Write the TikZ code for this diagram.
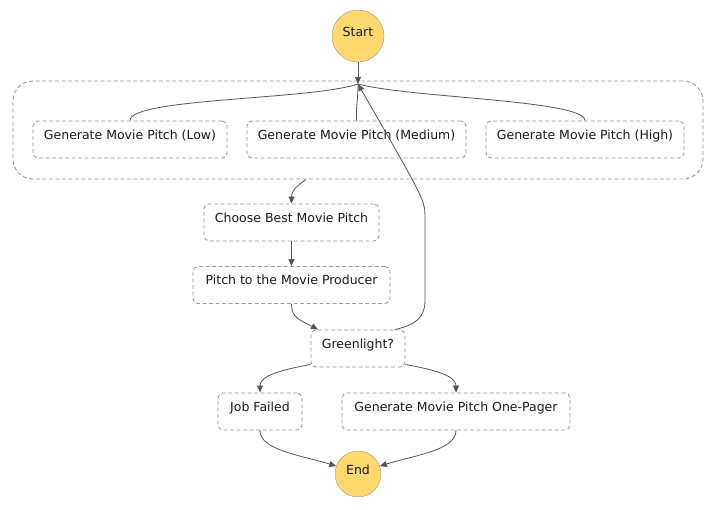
\documentclass[tikz,border=0pt]{standalone}
\usepackage{fontspec}
\setmainfont{DejaVu Sans}
\usetikzlibrary{arrows.meta,positioning,calc}
\definecolor{sun}{RGB}{255,216,110}
\definecolor{rim}{RGB}{150,150,150}
\definecolor{dash}{RGB}{155,155,155}
\definecolor{wire}{RGB}{85,85,85}
\definecolor{ink}{RGB}{22,25,31}
\tikzset{
  >={Triangle[length=7pt,width=6pt]},
  task/.style={draw=dash,line width=0.9pt,dash pattern=on 4pt off 2.5pt,fill=white,rounded corners=5pt,
    minimum height=37pt,minimum width=#1,inner xsep=0pt,text=ink,text height=9pt,text depth=10pt,
    font=\fontsize{12.5}{15}\selectfont},
  task/.default=100pt,
  group/.style={draw=dash,line width=0.9pt,dash pattern=on 4pt off 2.5pt,rounded corners=20pt,
    minimum width=690pt,minimum height=98pt},
  terminal/.style={circle,draw=rim,fill=sun,minimum size=#1,inner sep=0pt,text=ink,
    text height=9pt,text depth=9pt,font=\fontsize{12.5}{15}\selectfont},
  terminal/.default=52pt,
  link/.style={draw=wire,line width=0.8pt},
}
\begin{document}
\begin{tikzpicture}[x=1pt,y=1pt]
  \useasboundingbox (0,0) rectangle (715,-509);
  \fill[white] (0,0) rectangle (715,-509);
  \node[terminal] (start) at (358,-36) {Start};
  \node[group] (par) at (358,-130) {};
  \node[task=194pt] (low) at (130,-139.5) {Generate Movie Pitch (Low)};
  \node[task=219pt] (med) at (356.5,-139.5) {Generate Movie Pitch (Medium)};
  \node[task=198pt] (high) at (585,-139.5) {Generate Movie Pitch (High)};
  \node[task=175pt] (choose) at (291.5,-222.5) {Choose Best Movie Pitch};
  \node[task=197pt] (pitch) at (291.5,-285) {Pitch to the Movie Producer};
  \node[task=94pt] (green) at (358,-348.5) {Greenlight?};
  \node[task=84pt] (fail) at (260,-411.5) {Job Failed};
  \node[task=228pt] (pager) at (456,-411.5) {Generate Movie Pitch One-Pager};
  \node[terminal=46pt] (end) at (358,-474) {End};
  \coordinate (join) at (358,-84);

  \draw[link,->] (start) -- (join);
  \draw[link] (low.north) .. controls (130,-98) and (310,-100) .. (join);
  \draw[link] (med.north) .. controls (356,-104) and (358,-100) .. (join);
  \draw[link] (high.north) .. controls (585,-100) and (410,-98) .. (join);
  \draw[link,->] ([xshift=-52pt]par.south) .. controls (294,-188) and (291.5,-192) .. (choose.north);
  \draw[link,->] (choose) -- (pitch);
  \draw[link,->] (pitch.south) .. controls (291.5,-318) and (300,-320) .. ([xshift=-40pt]green.north);
  \draw[link,->] ([xshift=37pt]green.north) .. controls (415,-325) and (425,-318) .. (425,-300)
    -- (425,-215) .. controls (425,-200) and (420,-192) .. (join);
  \draw[link,->] ([yshift=-16pt]green.west) .. controls (280,-370) and (260,-376) .. (fail.north);
  \draw[link,->] ([yshift=-16pt]green.east) .. controls (436,-370) and (456,-376) .. (pager.north);
  \draw[link,->] (fail.south) .. controls (260,-450) and (300,-455) .. (end.160);
  \draw[link,->] (pager.south) .. controls (456,-450) and (416,-455) .. (end.20);
\end{tikzpicture}
\end{document}
